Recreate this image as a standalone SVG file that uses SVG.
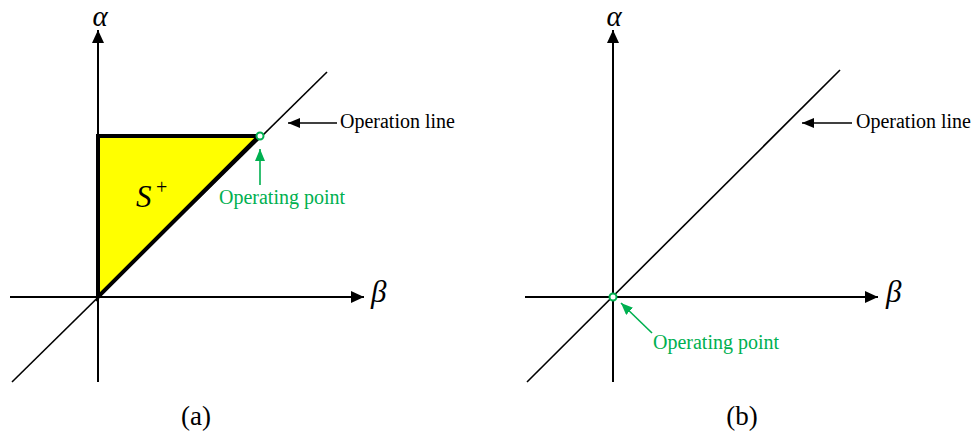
<svg xmlns="http://www.w3.org/2000/svg" width="973" height="434" viewBox="0 0 973 434">
<style>
.ax{stroke:#000;stroke-width:2;fill:none}
.dg{stroke:#000;stroke-width:1.6;fill:none}
.t{font-family:"Liberation Serif","Times New Roman",serif;font-size:20px;fill:#000}
.g{fill:#00b050}
.gs{stroke:#00b050;stroke-width:1.6;fill:none}
.sym{font-family:"Liberation Serif","Times New Roman",serif;font-style:italic;font-size:31px;fill:#000}
.al{font-size:29px}
.cap{font-family:"Liberation Serif","Times New Roman",serif;font-size:27px;fill:#000}
</style>
<defs>
<marker id="ah" markerWidth="13" markerHeight="12" refX="13" refY="6" orient="auto" markerUnits="userSpaceOnUse"><path d="M0,0 L13,6 L0,12 Z" fill="#000"/></marker>
<marker id="ahs" markerWidth="12" markerHeight="10" refX="12" refY="5" orient="auto" markerUnits="userSpaceOnUse"><path d="M0,0 L12,5 L0,10 Z" fill="#000"/></marker>
<marker id="ahg" markerWidth="12" markerHeight="10" refX="12" refY="5" orient="auto" markerUnits="userSpaceOnUse"><path d="M0,0 L12,5 L0,10 Z" fill="#00b050"/></marker>
</defs>
<g id="panel-a">
<g id="region-s">
<polygon points="98,297 98,136 259,136" fill="#ffff00" stroke="#000" stroke-width="4" stroke-linejoin="miter"/>
<text class="sym" x="136" y="207" font-size="32">S</text><text class="t" x="156" y="194" font-size="17">+</text>
</g>
<g id="axes-a">
<line class="ax" x1="98" y1="382" x2="98" y2="30" marker-end="url(#ah)"/>
<line class="ax" x1="10" y1="297" x2="364" y2="297" marker-end="url(#ah)"/>
<line class="dg" x1="12" y1="382" x2="327" y2="72"/>
<text class="sym al" x="100" y="26" text-anchor="middle">α</text>
<text class="sym" x="371" y="302">β</text>
</g>
<g id="op-point-a">
<circle cx="260" cy="136" r="3.5" fill="#fff" stroke="#00b050" stroke-width="2"/>
</g>
<g id="label-opline-a">
<text class="t" x="340" y="128">Operation line</text>
</g>
<g id="label-oppoint-a">
<text class="t g" x="219" y="204">Operating point</text>
</g>
<text class="cap" x="196" y="425" text-anchor="middle">(a)</text>
</g>
<g id="panel-b">
<g id="axes-b">
<line class="ax" x1="613" y1="382" x2="613" y2="30" marker-end="url(#ah)"/>
<line class="ax" x1="525" y1="297" x2="878" y2="297" marker-end="url(#ah)"/>
<line class="dg" x1="527" y1="382" x2="840" y2="70"/>
<text class="sym al" x="614" y="26" text-anchor="middle">α</text>
<text class="sym" x="886" y="302">β</text>
</g>
<g id="op-point-b">
<circle cx="613" cy="297" r="3.5" fill="#fff" stroke="#00b050" stroke-width="2"/>
</g>
<g id="label-opline-b">
<text class="t" x="856" y="128">Operation line</text>
</g>
<g id="label-oppoint-b">
<text class="t g" x="653" y="349">Operating point</text>
</g>
<text class="cap" x="742" y="425" text-anchor="middle">(b)</text>
</g>
<g id="connectors">
<line stroke="#000" stroke-width="1.6" x1="337" y1="123" x2="288" y2="123" marker-end="url(#ahs)"/>
<line class="gs" x1="260" y1="185" x2="260" y2="149" marker-end="url(#ahg)"/>
<line stroke="#000" stroke-width="1.6" x1="852" y1="123" x2="802" y2="123" marker-end="url(#ahs)"/>
<line class="gs" x1="652" y1="333" x2="621" y2="303" marker-end="url(#ahg)"/>
</g>
</svg>
